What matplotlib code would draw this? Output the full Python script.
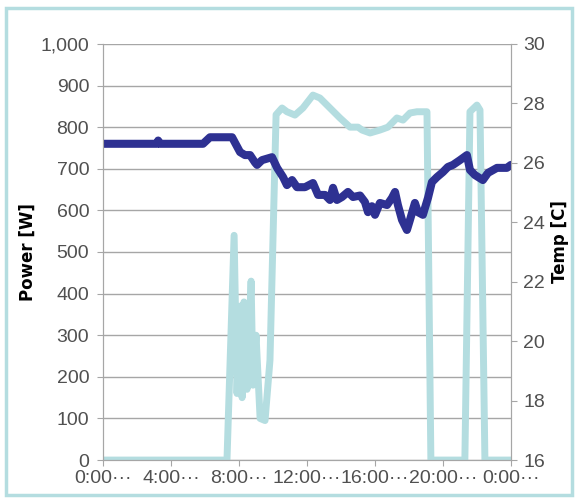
import numpy as np
import matplotlib.pyplot as plt
from matplotlib.patches import Rectangle

# power [W] (light line, left axis) - hours of day vs value
power_hours = [0, 7.29, 7.71, 7.88, 8.06, 8.18, 8.29, 8.47, 8.71, 8.82, 9.0, 9.24, 9.53, 9.82,
               10.18, 10.53, 10.82, 11.29, 11.76, 12.35, 12.76, 13.35, 13.94, 14.53, 15.0,
               15.24, 15.71, 16.29, 16.76, 17.29, 17.65, 18.06, 18.47, 19.06, 19.29, 21.29,
               21.59, 22.0, 22.18, 22.47, 24.0]
power_watts = [0, 0, 540, 160, 370, 150, 380, 170, 430, 180, 300, 100, 95, 240,
               830, 846, 837, 829, 846, 877, 870, 846, 822, 800, 800,
               793, 786, 793, 800, 822, 817, 834, 837, 837, 0, 0,
               837, 853, 841, 0, 0]

# temperature [C] (dark line, right axis)
temp_hours = [0, 3.18, 3.24, 3.35, 5.88, 6.29, 7.59, 8.06, 8.35, 8.65, 8.94, 9.06, 9.35,
              9.94, 10.24, 10.59, 10.82, 11.12, 11.41, 11.88, 12.35, 12.65, 13.06, 13.35,
              13.53, 13.76, 14.06, 14.41, 14.71, 15.12, 15.41, 15.59, 15.82, 16.0, 16.29,
              16.71, 17.0, 17.18, 17.35, 17.59, 17.88, 18.06, 18.35, 18.53, 18.82, 19.12,
              19.35, 19.65, 20.0, 20.29, 20.59, 21.0, 21.41, 21.59, 21.88, 22.35, 22.65,
              23.18, 23.76, 24.0]
temp_c = [26.64, 26.64, 26.75, 26.64, 26.64, 26.86, 26.86, 26.36, 26.26, 26.26, 26.01, 25.93, 26.09,
          26.19, 25.83, 25.52, 25.25, 25.42, 25.18, 25.18, 25.32, 24.92, 24.92, 24.75,
          25.16, 24.75, 24.85, 25.02, 24.85, 24.9, 24.68, 24.34, 24.54, 24.25, 24.65,
          24.58, 24.82, 25.02, 24.58, 24.08, 23.74, 24.08, 24.65, 24.34, 24.25, 24.82,
          25.35, 25.52, 25.69, 25.86, 25.93, 26.09, 26.26, 25.76, 25.59, 25.42, 25.66,
          25.83, 25.83, 25.93]

x_ticks = [0, 4, 8, 12, 16, 20, 24]
x_labels = ['0:00\u00b7\u00b7\u00b7', '4:00\u00b7\u00b7\u00b7', '8:00\u00b7\u00b7\u00b7',
            '12:00\u00b7\u00b7\u00b7', '16:00\u00b7\u00b7\u00b7', '20:00\u00b7\u00b7\u00b7',
            '0:00\u00b7\u00b7\u00b7']
power_ticks = list(range(0, 1001, 100))
power_labels = ['0', '100', '200', '300', '400', '500', '600', '700', '800', '900', '1,000']
temp_ticks = list(range(16, 31, 2))

light = '#b4dde0'
navy = '#2e3192'
grid_gray = '#a6a6a6'
text_gray = '#505050'

plt.rcParams['font.family'] = ['Liberation Sans', 'DejaVu Sans']

fig = plt.figure(figsize=(5.76, 4.99), dpi=100)
ax = fig.add_axes([0.179, 0.078, 0.708, 0.834])
ax2 = ax.twinx()

ax.plot(power_hours, power_watts, color=light, lw=5, solid_joinstyle='round', solid_capstyle='round')
ax2.plot(temp_hours, temp_c, color=navy, lw=5.8, solid_joinstyle='round', solid_capstyle='round')

ax.set_xlim(0, 24)
ax.set_ylim(0, 1000)
ax2.set_ylim(16, 30)

ax.set_xticks(x_ticks)
ax.set_xticklabels(x_labels)
ax.set_yticks(power_ticks)
ax.set_yticklabels(power_labels)
ax2.set_yticks(temp_ticks)

ax.yaxis.grid(True, color=grid_gray, lw=1)
ax.set_axisbelow(True)

for a in (ax, ax2):
    a.spines['top'].set_visible(False)
    for s in ['left', 'right', 'bottom']:
        a.spines[s].set_color(grid_gray)
    a.tick_params(colors=grid_gray, labelcolor=text_gray, labelsize=14, length=4, direction='out')
ax.tick_params(axis='y', pad=6)
ax2.tick_params(axis='y', pad=5)
ax.tick_params(axis='x', pad=3)

ax.set_ylabel('Power [W]', fontsize=12, fontweight='bold', color='black', labelpad=3,
              family='DejaVu Sans')
ax2.set_ylabel('Temp [C]', fontsize=12, fontweight='bold', color='black',
               family='DejaVu Sans')
ax2.yaxis.set_label_coords(1.12, 0.525)
ax2.yaxis.label.set_va('center')

fig.patches.append(Rectangle((0.011, 0.009), 0.982, 0.975, transform=fig.transFigure,
                             fill=False, edgecolor=light, lw=2.5))

fig.savefig('out.png', dpi=100)
